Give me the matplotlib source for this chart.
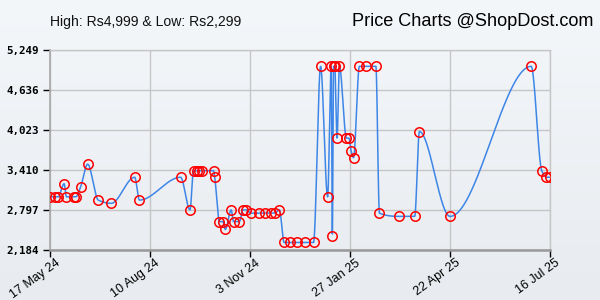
import numpy as np
import matplotlib
matplotlib.use("Agg")
import matplotlib.pyplot as plt
import matplotlib.dates as mdates
import matplotlib.transforms as mtransforms
import pandas as pd

# ---------------- data ----------------
dates = [
    "2024-05-17", "2024-05-21", "2024-05-24", "2024-05-29", "2024-05-31",
    "2024-06-06", "2024-06-08", "2024-06-12", "2024-06-18", "2024-06-27",
    "2024-07-08", "2024-07-28", "2024-08-01", "2024-09-05", "2024-09-13",
    "2024-09-16", "2024-09-19", "2024-09-21", "2024-09-23", "2024-10-03",
    "2024-10-04", "2024-10-08", "2024-10-11", "2024-10-13", "2024-10-18",
    "2024-10-20", "2024-10-25", "2024-10-28", "2024-10-31", "2024-11-04",
    "2024-11-11", "2024-11-16", "2024-11-21", "2024-11-24", "2024-11-28",
    "2024-12-02", "2024-12-07", "2024-12-13", "2024-12-20", "2024-12-27",
    "2025-01-02", "2025-01-08", "2025-01-11", "2025-01-12", "2025-01-13",
    "2025-01-14", "2025-01-16", "2025-01-18", "2025-01-24", "2025-01-26",
    "2025-01-28", "2025-01-30", "2025-02-04", "2025-02-10", "2025-02-18",
    "2025-02-21", "2025-03-10", "2025-03-23", "2025-03-27", "2025-04-22",
    "2025-06-30", "2025-07-09", "2025-07-13", "2025-07-16",
]
prices = [
    2999, 2999, 2999, 3199, 2999,
    2999, 2999, 3149, 3499, 2949,
    2899, 3299, 2949, 3299, 2799,
    3399, 3399, 3399, 3399, 3399,
    3299, 2619, 2619, 2499, 2799,
    2619, 2619, 2799, 2799, 2749,
    2749, 2749, 2749, 2749, 2799,
    2299, 2299, 2299, 2299, 2299,
    4999, 2999, 4999, 2399, 4999,
    4999, 3899, 4999, 3899, 3899,
    3699, 3599, 4999, 4999, 4999,
    2749, 2699, 2699, 3999, 2699,
    4999, 3399, 3299, 3299,
]
y_ticks = [2184, 2797, 3410, 4023, 4636, 5249]
x_tick_dates = ["2024-05-17", "2024-08-10", "2024-11-03", "2025-01-27", "2025-04-22", "2025-07-16"]
x_tick_labels = ["17 May 24", "10 Aug 24", "3 Nov 24", "27 Jan 25", "22 Apr 25", "16 Jul 25"]
title_left = "High: Rs4,999 & Low: Rs2,299"
title_right = "Price Charts @ShopDost.com"

# ---------------- smoothing (monotone cubic, for drawing the line) ----------------
def pchip(x, y, xs):
    x = np.asarray(x, float)
    y = np.asarray(y, float)
    h = np.diff(x)
    delta = np.diff(y) / h
    n = len(x)
    d = np.zeros(n)
    for k in range(1, n - 1):
        if delta[k - 1] * delta[k] > 0:
            w1 = 2 * h[k] + h[k - 1]
            w2 = h[k] + 2 * h[k - 1]
            d[k] = (w1 + w2) / (w1 / delta[k - 1] + w2 / delta[k])
    idx = np.clip(np.searchsorted(x, xs) - 1, 0, n - 2)
    t = (xs - x[idx]) / h[idx]
    h00 = 2 * t**3 - 3 * t**2 + 1
    h10 = t**3 - 2 * t**2 + t
    h01 = -2 * t**3 + 3 * t**2
    h11 = t**3 - t**2
    return h00 * y[idx] + h10 * h[idx] * d[idx] + h01 * y[idx + 1] + h11 * h[idx] * d[idx + 1]

xd = mdates.date2num(pd.to_datetime(dates).to_pydatetime())
yv = np.array(prices, float)
xs = np.linspace(xd[0], xd[-1], 3000)
ys = pchip(xd, yv, xs)

# ---------------- figure ----------------
fig = plt.figure(figsize=(6, 3), dpi=100)

# gradient background
bg = fig.add_axes([0, 0, 1, 1], zorder=-10)
grad = np.linspace(0, 1, 256).reshape(-1, 1)
top = np.array([244, 247, 250]) / 255
bot = np.array([232, 235, 239]) / 255
img = top[None, None, :] * (1 - grad[:, :, None]) + bot[None, None, :] * grad[:, :, None]
bg.imshow(img, aspect="auto", extent=[0, 1, 0, 1])
bg.axis("off")

ax = fig.add_axes([50 / 600, 50 / 300, 500 / 600, 200 / 300])
ax.patch.set_alpha(0)

ax.plot(xs, ys, color="#3d86e8", lw=1.1, zorder=3)
ax.plot(xd, yv, linestyle="none", marker="o", markersize=6.8,
        markerfacecolor="none", markeredgecolor="#ff0000", markeredgewidth=1.1, zorder=4)

ax.set_ylim(y_ticks[0], y_ticks[-1])
ax.set_yticks(y_ticks)
ax.set_yticklabels([f"{v:,}" for v in y_ticks],
                   fontfamily="DejaVu Sans Mono", fontweight="bold", fontsize=7.8)

xt = mdates.date2num(pd.to_datetime(x_tick_dates).to_pydatetime())
ax.set_xlim(xt[0], xt[-1])
ax.set_xticks(xt)
ax.set_xticklabels([""] * len(xt))
lab_trans = ax.get_xaxis_transform() + mtransforms.ScaledTranslation(12 / 100, -7 / 100, fig.dpi_scale_trans)
for xv, lab in zip(xt, x_tick_labels):
    ax.text(xv, 0, lab, transform=lab_trans, rotation=36, ha="right", va="top",
            rotation_mode="default", fontfamily="Liberation Sans", fontsize=9,
            clip_on=False)

ax.grid(True, color="#c6c6c6", lw=1)
ax.set_axisbelow(True)
ax.tick_params(axis="both", direction="out", length=5, width=1, color="black", pad=3)

for s in ["top", "right"]:
    ax.spines[s].set_color("#c6c6c6")
    ax.spines[s].set_linewidth(1)
ax.spines["left"].set_color("#a8a8a8")
ax.spines["left"].set_linewidth(1.2)
ax.spines["bottom"].set_color("#999999")
ax.spines["bottom"].set_linewidth(1.8)

fig.text(50 / 600, 1 - 22 / 300, title_left, fontfamily="Liberation Sans",
         fontsize=10.1, ha="left", va="center", color="#111111")
fig.text(593 / 600, 1 - 22 / 300, title_right, fontfamily="Liberation Sans",
         fontsize=13.1, ha="right", va="center", color="black")

fig.savefig("out.png", dpi=100)
